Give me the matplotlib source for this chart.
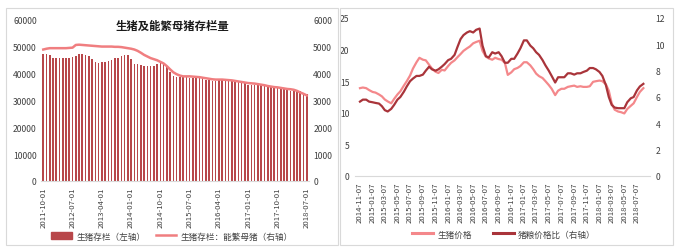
import matplotlib
matplotlib.use('Agg')
import matplotlib.pyplot as plt
from matplotlib.patches import Rectangle, Patch
from matplotlib.lines import Line2D
import pandas as pd

plt.rcParams['font.family'] = ['Noto Sans CJK SC', 'DejaVu Sans']

# ---- left panel data: monthly inventory (万头) ----
months = pd.date_range('2011-10-01', '2018-07-01', freq='MS')
hogs = [
    47500, 47400, 47000,
    46000, 45700, 46000, 46000, 46000, 46000, 46200, 46600, 47300, 47300, 47000, 46600,
    45600, 44500, 44000, 44300, 44500, 44600, 45000, 45700, 46000, 46400, 46800, 46800,
    45600, 43700, 43500, 43300, 42800, 42900, 42800, 43000, 43500, 44000, 43500, 42600,
    40800, 39200, 38800, 38800, 38800, 38600, 38500, 38500, 38500, 38500, 38200, 37800,
    37500, 37200, 37300, 37500, 37600, 37500, 37300, 37200, 37100, 37000, 36800, 36500,
    35900, 35700, 35800, 35700, 35600, 35500, 35400, 35200, 35000, 34900, 34500, 34200,
    33800, 33500, 33600, 33500, 33400, 32800, 32400,
]
sows = [
    4900, 4930, 4950,
    4950, 4950, 4950, 4950, 4950, 4960, 4970, 5070, 5080, 5070, 5060, 5050,
    5040, 5030, 5020, 5010, 5010, 5010, 5010, 5000, 5000, 4990, 4970, 4950,
    4930, 4900, 4850, 4780, 4700, 4640, 4580, 4540, 4500, 4440, 4380, 4280,
    4160, 4050, 3980, 3930, 3900, 3900, 3900, 3890, 3880, 3870, 3850, 3830,
    3810, 3790, 3780, 3780, 3780, 3770, 3760, 3750, 3730, 3710, 3690, 3670,
    3650, 3640, 3630, 3610, 3590, 3570, 3540, 3520, 3500, 3490, 3470, 3450,
    3430, 3420, 3400, 3360, 3300, 3250, 3190,
]

# ---- right panel data: half-monthly price and hog/grain ratio ----
price_dates = [
    '2014-11-07', '2014-11-21', '2014-12-07', '2014-12-21',
    '2015-01-07', '2015-01-21', '2015-02-07', '2015-02-21', '2015-03-07', '2015-03-21',
    '2015-04-07', '2015-04-21', '2015-05-07', '2015-05-21', '2015-06-07', '2015-06-21',
    '2015-07-07', '2015-07-21', '2015-08-07', '2015-08-21', '2015-09-07', '2015-09-21',
    '2015-10-07', '2015-10-21', '2015-11-07', '2015-11-21', '2015-12-07', '2015-12-21',
    '2016-01-07', '2016-01-21', '2016-02-07', '2016-02-21', '2016-03-07', '2016-03-21',
    '2016-04-07', '2016-04-21', '2016-05-07', '2016-05-21', '2016-06-07', '2016-06-21',
    '2016-07-07', '2016-07-21', '2016-08-07', '2016-08-21', '2016-09-07', '2016-09-21',
    '2016-10-07', '2016-10-21', '2016-11-07', '2016-11-21', '2016-12-07', '2016-12-21',
    '2017-01-07', '2017-01-21', '2017-02-07', '2017-02-21', '2017-03-07', '2017-03-21',
    '2017-04-07', '2017-04-21', '2017-05-07', '2017-05-21', '2017-06-07', '2017-06-21',
    '2017-07-07', '2017-07-21', '2017-08-07', '2017-08-21', '2017-09-07', '2017-09-21',
    '2017-10-07', '2017-10-21', '2017-11-07', '2017-11-21', '2017-12-07', '2017-12-21',
    '2018-01-07', '2018-01-21', '2018-02-07', '2018-02-21', '2018-03-07', '2018-03-21',
    '2018-04-07', '2018-04-21', '2018-05-07', '2018-05-21', '2018-06-07', '2018-06-21',
    '2018-07-07', '2018-07-21', '2018-08-07',
]
hog_price = [
    13.9, 14.0, 13.9, 13.6,
    13.3, 13.2, 12.9, 12.6, 12.1, 11.8, 11.5, 12.2, 12.9, 13.4, 14.3, 15.0,
    15.9, 17.0, 18.0, 18.7, 18.4, 18.3, 17.6, 17.0, 16.5, 16.3, 16.8, 16.7,
    17.4, 17.9, 18.3, 18.8, 19.3, 19.8, 20.2, 20.5, 21.0, 21.2, 21.4, 19.8,
    18.9, 18.6, 18.4, 18.7, 18.5, 18.4, 17.9, 16.0, 16.4, 16.9, 17.1, 17.4,
    18.0, 18.0, 17.5, 16.9, 16.2, 15.8, 15.5, 15.0, 14.4, 13.8, 12.8, 13.5,
    13.8, 13.8, 14.1, 14.2, 14.3, 14.1, 14.2, 14.1, 14.1, 14.2, 14.9, 15.0,
    15.1, 15.0, 14.5, 13.5, 11.5, 10.5, 10.2, 10.1, 9.9, 10.6, 11.1, 11.5,
    12.5, 13.3, 13.9,
]
hog_grain_ratio = [
    5.65, 5.8, 5.8, 5.65,
    5.6, 5.55, 5.5, 5.3, 5.0, 4.9, 5.1, 5.4, 5.8, 6.0, 6.4, 6.8,
    7.2, 7.4, 7.6, 7.6, 7.7, 8.0, 8.3, 8.1, 8.0, 8.1, 8.3, 8.5,
    8.8, 8.9, 9.2, 9.8, 10.4, 10.7, 10.9, 11.0, 10.9, 11.1, 11.2, 9.9,
    9.1, 9.0, 9.4, 9.3, 9.4, 9.1, 8.6, 8.6, 8.9, 8.9, 9.3, 9.7,
    10.3, 10.3, 9.9, 9.7, 9.4, 9.2, 8.8, 8.4, 8.0, 7.6, 7.1, 7.5,
    7.5, 7.5, 7.8, 7.8, 7.7, 7.8, 7.8, 7.9, 8.0, 8.2, 8.2, 8.1,
    7.9, 7.6, 6.9, 6.0, 5.4, 5.2, 5.15, 5.15, 5.15, 5.6, 5.9, 6.0,
    6.5, 6.8, 7.0,
]
right_ticks = [
    '2014-11-07', '2015-01-07', '2015-03-07', '2015-05-07', '2015-07-07', '2015-09-07',
    '2015-11-07', '2016-01-07', '2016-03-07', '2016-05-07', '2016-07-07', '2016-09-07',
    '2016-11-07', '2017-01-07', '2017-03-07', '2017-05-07', '2017-07-07', '2017-09-07',
    '2017-11-07', '2018-01-07', '2018-03-07', '2018-05-07', '2018-07-07',
]

BAR_C = '#B8474A'
SOW_C = '#F07E80'
PRICE_C = '#F4888B'
RATIO_C = '#A9343A'
TXT = '#404040'

W, H = 676, 253
fig = plt.figure(figsize=(W / 100, H / 100), dpi=100)
fig.patch.set_facecolor('white')


def px(x0, y0, x1, y1):
    # pixel box (top-left origin) -> figure fraction rect
    return [x0 / W, 1 - y1 / H, (x1 - x0) / W, (y1 - y0) / H]


# panel frames
for x0, x1 in [(6, 338), (340, 673)]:
    fig.patches.append(Rectangle((x0 / W, 1 - 246 / H), (x1 - x0) / W, 237 / H,
                                 transform=fig.transFigure, fill=False,
                                 edgecolor='#D9D9D9', linewidth=0.8))

# ---------------- left panel ----------------
ax = fig.add_axes(px(41, 21, 309, 182))
x = list(range(len(months)))
ax.bar(x, hogs, width=0.5, color=BAR_C, zorder=2)
ax.set_ylim(0, 60000)
ax.set_xlim(-0.7, len(months) - 0.3)
ax.set_yticks(range(0, 60001, 10000))
ax.set_xticks(x[::9])
ax.set_xticklabels([m.strftime('%Y-%m-%d') for m in months[::9]], rotation=90)

ax2 = ax.twinx()
ax2.plot(x, sows, color=SOW_C, linewidth=1.8, zorder=3)
ax2.set_ylim(0, 6000)
ax2.set_yticks(range(0, 6001, 1000))

for a in (ax, ax2):
    for s in a.spines.values():
        s.set_visible(False)
    a.tick_params(length=0, labelsize=6.2, colors=TXT, pad=3)
ax.spines['bottom'].set_visible(True)
ax.spines['bottom'].set_color('#D9D9D9')
ax.tick_params(axis='x', labelsize=5.6, pad=4)

fig.text(173 / W, 1 - 26 / H, '生猪及能繁母猪存栏量', ha='center', va='center',
         fontsize=8.2, fontweight='bold', color='#1a1a1a')

fig.legend(handles=[Patch(color=BAR_C), Line2D([], [], color=SOW_C, lw=1.8)],
           labels=['生猪存栏（左轴）', '生猪存栏：能繁母猪（右轴）'],
           loc='center', bbox_to_anchor=(172 / W, 1 - 237 / H), ncol=2,
           frameon=False, fontsize=6.2, handlelength=2.4, handleheight=0.8,
           columnspacing=1.2, handletextpad=0.5, labelcolor=TXT)

# ---------------- right panel ----------------
pd_dates = pd.to_datetime(price_dates)
bx = fig.add_axes(px(355, 19, 650, 177))
bx.plot(pd_dates, hog_price, color=PRICE_C, linewidth=1.6, zorder=2)
bx.set_ylim(0, 25)
bx.set_yticks(range(0, 26, 5))
bx.set_xlim(pd.Timestamp('2014-10-14'), pd.Timestamp('2018-09-08'))
bx.set_xticks(pd.to_datetime(right_ticks))
bx.set_xticklabels(right_ticks, rotation=90)

bx2 = bx.twinx()
bx2.plot(pd_dates, hog_grain_ratio, color=RATIO_C, linewidth=1.6, zorder=3)
bx2.set_ylim(0, 12)
bx2.set_yticks(range(0, 13, 2))

for a in (bx, bx2):
    for s in a.spines.values():
        s.set_visible(False)
    a.tick_params(length=0, labelsize=6.2, colors=TXT, pad=4)
bx.spines['bottom'].set_visible(True)
bx.spines['bottom'].set_color('#D9D9D9')
bx.tick_params(axis='x', labelsize=5.6, pad=4)

fig.legend(handles=[Line2D([], [], color=PRICE_C, lw=2.2), Line2D([], [], color=RATIO_C, lw=2.2)],
           labels=['生猪价格', '猪粮价格比（右轴）'],
           loc='center', bbox_to_anchor=(504 / W, 1 - 235 / H), ncol=2,
           frameon=False, fontsize=6.2, handlelength=2.4,
           columnspacing=2.5, handletextpad=0.5, labelcolor=TXT)

fig.savefig('out.png', dpi=100, facecolor='white')
